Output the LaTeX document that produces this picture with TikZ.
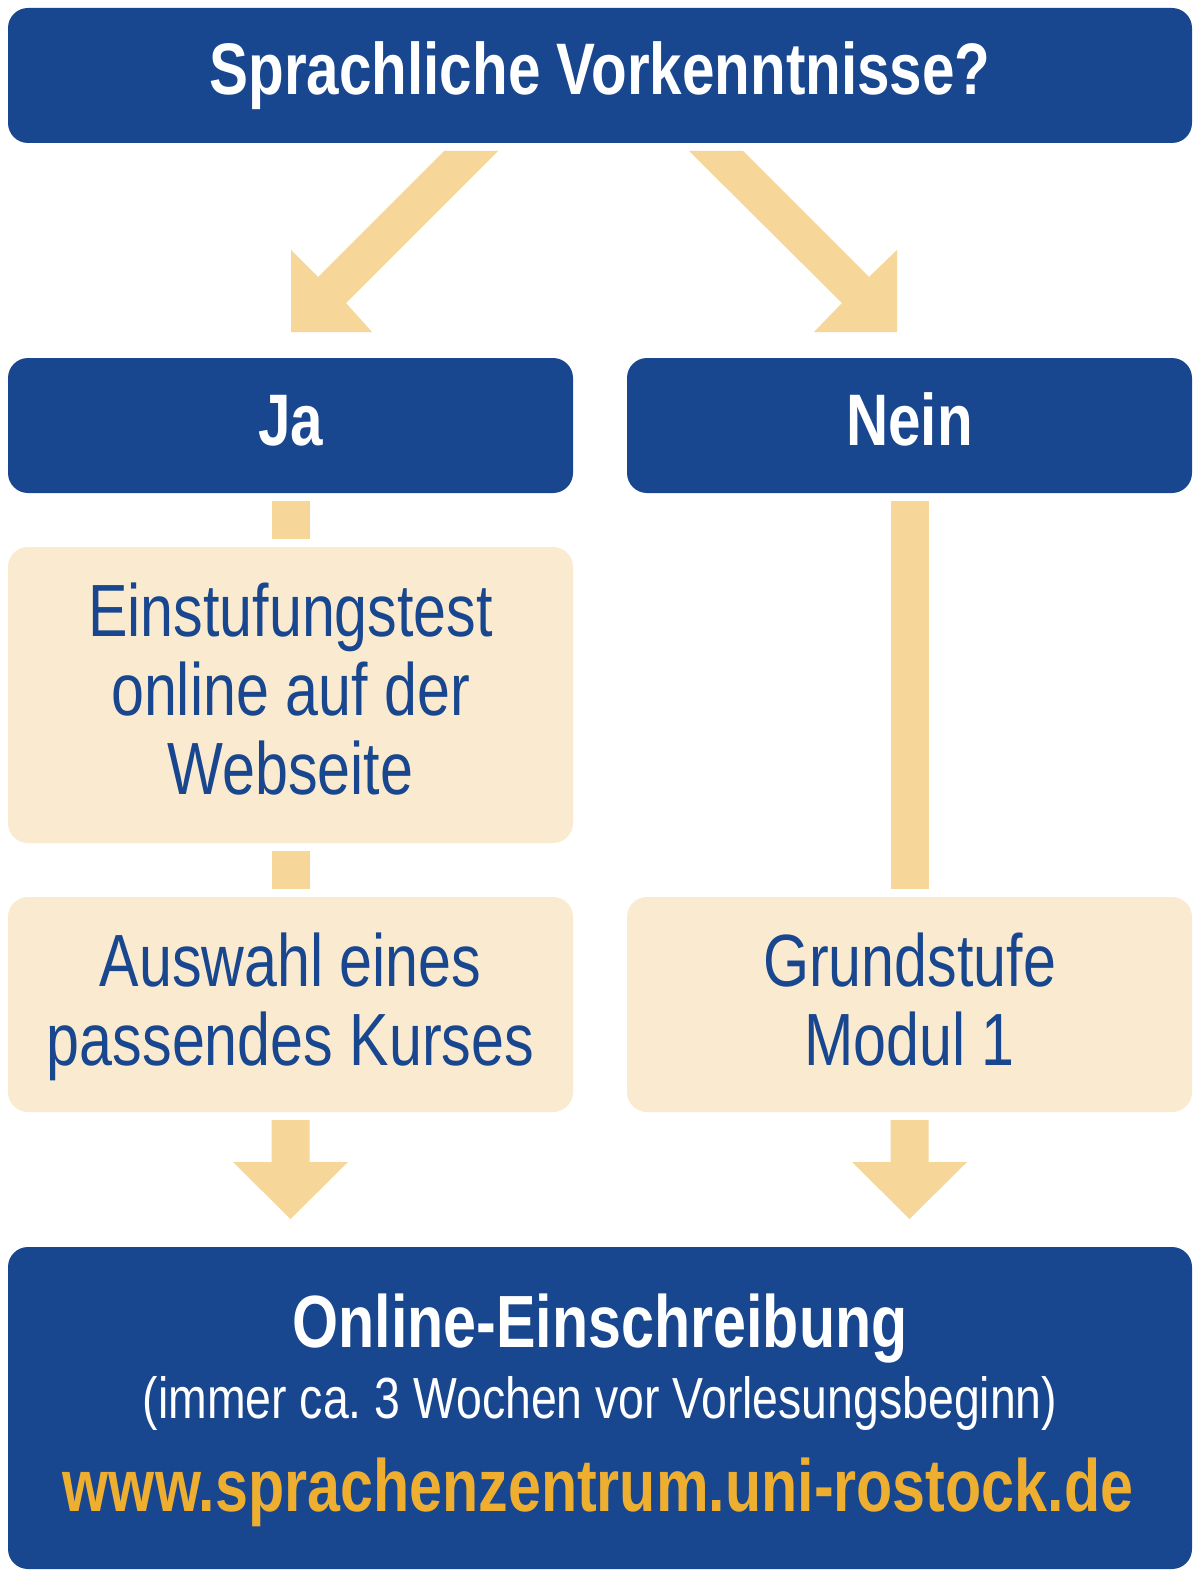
\documentclass[tikz,border=0pt]{standalone}
\usepackage{fontspec}
\setmainfont{Liberation Sans}[FakeStretch=0.8]
\usetikzlibrary{calc}
\definecolor{uniblue}{HTML}{18468F}
\definecolor{lightbeige}{HTML}{FAEBD0}
\definecolor{arrowbeige}{HTML}{F6D699}
\definecolor{urlorange}{HTML}{EEAE30}
\frenchspacing
\begin{document}
\begin{tikzpicture}[x=1pt,y=-1pt,
  bluebox/.style={fill=uniblue, draw=none, rounded corners=20pt, inner sep=0pt, outer sep=0pt},
  beigebox/.style={fill=lightbeige, draw=none, rounded corners=20pt, inner sep=0pt, outer sep=0pt},
  headtext/.style={font=\fontsize{73pt}{79pt}\selectfont\bfseries, text=white, inner sep=0pt, anchor=base},
  bodytext/.style={font=\fontsize{74pt}{79pt}\selectfont, text=uniblue, inner sep=0pt, anchor=base},
  conn/.style={draw=arrowbeige, line width=38pt, shorten <=8pt, shorten >=8pt},
  downarrow/.pic={\fill[arrowbeige] (-19,8) -- (19,8) -- (19,50) -- (57.5,50) -- (0,107) -- (-57.5,50) -- (-19,50) -- cycle;}
]
\fill[white] (0,0) rectangle (1200,1578);
\useasboundingbox (0,0) rectangle (1200,1578);

% question
\node[bluebox, minimum width=1184pt, minimum height=135pt] (frage) at (600,75.5) {};
\node[headtext] (frageT) at (600,95) {Sprachliche Vorkenntnisse?};

% diagonal arrows
\fill[arrowbeige] (444,151) -- (498,151) -- (346,303) -- (372,332) -- (291,332) -- (291,250) -- (318,277) -- cycle;
\fill[arrowbeige] (743,151) -- (689,151) -- (842,303) -- (814,332) -- (897,332) -- (897,250) -- (869,277) -- cycle;

% Ja / Nein
\node[bluebox, minimum width=565pt, minimum height=135pt] (ja) at (290.5,425.5) {};
\node[bluebox, minimum width=565pt, minimum height=135pt] (nein) at (909.5,425.5) {};
\node[headtext] (jaT) at (290.5,445) {Ja};
\node[headtext] (neinT) at (909.5,445) {Nein};

% left column
\node[beigebox, minimum width=565pt, minimum height=296pt] (einst) at (290.5,695) {};
\node[bodytext] (einst1) at (290.5,636) {Einstufungstest};
\node[bodytext] (einst2) at (290.5,715) {online auf der};
\node[bodytext] (einst3) at (290.5,794) {Webseite};

\node[beigebox, minimum width=565pt, minimum height=215pt] (aus) at (290.5,1004.5) {};
\node[bodytext] (aus1) at (290.5,986) {Auswahl eines};
\node[bodytext] (aus2) at (290.5,1065) {passendes Kurses};

% right column
\node[beigebox, minimum width=565pt, minimum height=215pt] (grund) at (909.5,1004.5) {};
\node[bodytext] (grund1) at (909.5,986) {Grundstufe};
\node[bodytext] (grund2) at (909.5,1065) {Modul 1};

% connectors
\draw[conn] (ja.south) -- (einst.north);
\draw[conn] (einst.south) -- (aus.north);
\draw[conn] (nein.south) -- (grund.north);
\pic at (aus.south) {downarrow};
\pic at (grund.south) {downarrow};

% bottom
\node[bluebox, minimum width=1184pt, minimum height=322pt] (einschr) at (600,1408) {};
\node[inner sep=0pt, anchor=base, text=white, font=\fontsize{74pt}{79pt}\selectfont\bfseries] (einschrT) at (600,1347) {Online-Einschreibung};
\node[inner sep=0pt, anchor=base, text=white, font=\fontsize{58pt}{64pt}\selectfont] (einschrS) at (600,1418) {(immer ca. 3 Wochen vor Vorlesungsbeginn)};
\node[inner sep=0pt, anchor=base, text=urlorange, font=\fontsize{74pt}{79pt}\selectfont\bfseries] (url) at (598,1511) {www.sprachenzentrum.uni-rostock.de};
\end{tikzpicture}
\end{document}
